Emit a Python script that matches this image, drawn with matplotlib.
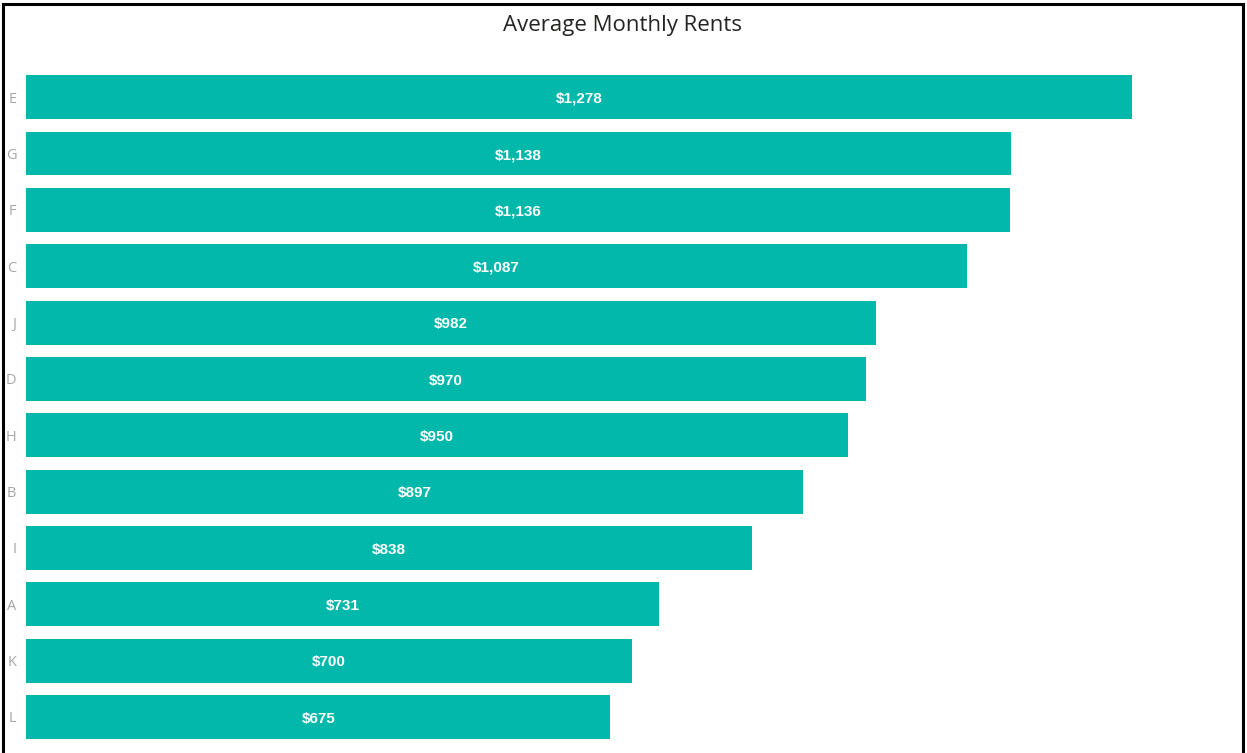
import matplotlib.pyplot as plt
from matplotlib.patches import Rectangle

# Данные
categories = ['E', 'G', 'F', 'C', 'J', 'D', 'H', 'B', 'I', 'A', 'K', 'L']
rents = [1278, 1138, 1136, 1087, 982, 970, 950, 897, 838, 731, 700, 675]
labels = ['$1,278', '$1,138', '$1,136', '$1,087', '$982', '$970',
          '$950', '$897', '$838', '$731', '$700', '$675']

bar_color = '#01B8AA'

fig = plt.figure(figsize=(12.47, 7.53), dpi=100)
ax = fig.add_axes([0.0209, 0.0104, 0.965, 0.898])

y = range(len(categories))
ax.barh(y, rents, height=0.78, color=bar_color)
ax.set_ylim(len(categories) - 0.5, -0.5)
ax.set_xlim(0, 1390)

for i, (v, lab) in enumerate(zip(rents, labels)):
    ax.text(v / 2, i + 0.03, lab, ha='center', va='center', color='white',
            fontsize=11, fontweight='bold',
            family=['Liberation Sans', 'DejaVu Sans'])

ax.set_yticks(list(y))
ax.set_yticklabels(categories, fontsize=10.5, color='#a6a6a6',
                   family=['Open Sans', 'DejaVu Sans'])
ax.tick_params(axis='y', length=0, pad=7)
ax.set_xticks([])
for s in ax.spines.values():
    s.set_visible(False)

fig.text(0.4995, 0.966, 'Average Monthly Rents', ha='center', va='center',
         fontsize=16, color='#252423', family=['Open Sans', 'DejaVu Sans'])

# Рамка вокруг картинки (без нижней линии)
border = Rectangle((2.5 / 1247, -0.01), (1242.5 - 2.5) / 1247, 1 - 4 / 753 + 0.01,
                   transform=fig.transFigure, fill=False, edgecolor='black',
                   linewidth=2.2, zorder=10)
fig.patches.append(border)

fig.savefig('out.png', dpi=100)
